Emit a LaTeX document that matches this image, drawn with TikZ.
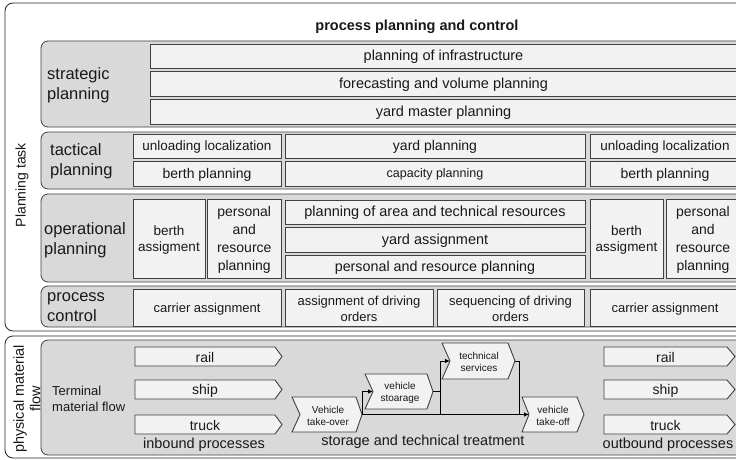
\documentclass[tikz,border=0pt]{standalone}
\usepackage{fontspec}
\setmainfont{Liberation Sans}
\usetikzlibrary{arrows.meta,calc}
\definecolor{bandgray}{RGB}{217,217,217}
\definecolor{boxfill}{RGB}{242,242,242}
\definecolor{linec}{RGB}{64,64,64}
\definecolor{txt}{RGB}{25,25,25}
\newcommand{\myfs}[2]{\fontsize{#1}{#2}\selectfont}
\newcommand{\mybox}[7]{%
  \draw[boxst] (#2,#3) rectangle (#4,#5);
  \node[bt, font=#6] (#1) at ($(#2,#3)!0.5!(#4,#5)$) {#7};
}
\newcommand{\mychev}[9]{%
  \pgfmathsetmacro\chvmid{(#3+#5)/2}%
  \pgfmathsetmacro\chvtx{(#2+#6+#4-#7)/2}%
  \draw[boxst] (#2,#3) -- ({#4-#7},#3) -- (#4,\chvmid) -- ({#4-#7},#5) -- (#2,#5) -- ({#2+#6},\chvmid) -- cycle;
  \node[bt, font=#8] (#1) at (\chvtx,\chvmid) {#9};
  \coordinate (#1-tip) at (#4,\chvmid);
  \coordinate (#1-notch) at ({#2+#6},\chvmid);
}
\begin{document}
\begin{tikzpicture}[x=1pt,y=-1pt,
  frame/.style={draw=black!85, line width=0.8pt, rounded corners=8pt},
  band/.style={draw=linec, fill=bandgray, line width=0.8pt, rounded corners=7pt},
  boxst/.style={draw=linec, fill=boxfill, line width=0.9pt},
  bt/.style={text=txt, align=center, inner sep=0pt, yshift=-1.2pt},
  lbl/.style={text=txt, align=left, anchor=west, inner sep=0pt, font=\myfs{16.5}{20}},
  conn/.style={draw=black, line width=0.8pt, -{Latex[length=5pt,width=4.5pt]}},
  plain/.style={draw=black, line width=0.8pt}]
\useasboundingbox (0,0) rectangle (736,460);
\clip (0,0) rectangle (736,460);
\fill[white] (0,0) rectangle (736,460);

% outer frames
\draw[frame] (5,3) rectangle (760,331);
\draw[frame] (5,336) rectangle (760,458);
\node[rotate=90, text=txt, inner sep=0pt, font=\myfs{14}{16}] (ptask) at (22,185) {Planning task};
\node[rotate=90, text=txt, align=center, inner sep=0pt, font=\myfs{14.5}{16.5}] (pmf) at (27,399) {physical material\\flow};

\node[text=txt, inner sep=0pt, font=\bfseries\myfs{14.5}{17}] (title) at (417,27) {process planning and control};

% bands
\draw[band] (41,41) rectangle (760,127);
\draw[band] (41,132) rectangle (760,189);
\draw[band] (41,194) rectangle (760,282);
\draw[band] (41,286) rectangle (760,327);
\draw[band] (41,340) rectangle (760,455);

\node[lbl] (sp) at (47,85) {strategic\\planning};
\node[lbl] (tp) at (50,161) {tactical\\planning};
\node[lbl] (op) at (44,240) {operational\\planning};
\node[lbl] (pc) at (47,307) {process\\control};

% strategic
\mybox{s1}{150}{44}{737}{68}{\myfs{14.5}{17}}{planning of infrastructure}
\mybox{s2}{150}{71.5}{737}{96}{\myfs{14.5}{17}}{forecasting and volume planning}
\mybox{s3}{150}{99}{737}{124}{\myfs{14.5}{17}}{yard master planning}

% tactical
\mybox{t1}{133}{134}{281}{158}{\myfs{13.5}{16}}{unloading localization}
\mybox{t2}{133}{161}{281}{186}{\myfs{14}{16}}{berth planning}
\mybox{t3}{285}{134}{585}{158}{\myfs{14}{16}}{yard planning}
\mybox{t4}{285}{161}{585}{186}{\myfs{12.5}{15}}{capacity planning}
\mybox{t5}{590}{134}{740}{158}{\myfs{13.5}{16}}{unloading localization}
\mybox{t6}{590}{161}{740}{186}{\myfs{14}{16}}{berth planning}

% operational
\mybox{o1}{133}{199}{205}{278}{\myfs{13.5}{16}}{berth\\assigment}
\mybox{o2}{207.5}{199}{281}{278}{\myfs{14}{18}}{personal\\and\\resource\\planning}
\mybox{o3}{285}{200}{585}{224}{\myfs{14.5}{17}}{planning of area and technical resources}
\mybox{o4}{285}{227.5}{585}{252}{\myfs{14.5}{17}}{yard assignment}
\mybox{o5}{285}{255}{585}{278}{\myfs{14.3}{17}}{personal and resource planning}
\mybox{o6}{590}{199}{663}{278}{\myfs{13.5}{16}}{berth\\assigment}
\mybox{o7}{666}{199}{740}{278}{\myfs{14}{18}}{personal\\and\\resource\\planning}

% process control
\mybox{p1}{133}{289}{281}{326}{\myfs{13}{16}}{carrier assignment}
\mybox{p2}{285}{289}{433}{326}{\myfs{13}{15.5}}{assignment of driving\\orders}
\mybox{p3}{437}{289}{584}{326}{\myfs{13}{15.5}}{sequencing of driving\\orders}
\mybox{p4}{590}{289}{740}{326}{\myfs{13}{16}}{carrier assignment}

% physical material flow
\node[text=txt, anchor=west, align=left, inner sep=0pt, font=\myfs{13}{16}] (tmf) at (52,399) {Terminal\\material flow};

\mychev{ir}{135}{347}{282}{366}{0}{7}{\myfs{14}{16}}{rail}
\mychev{is}{135}{380}{282}{399}{0}{7}{\myfs{14}{16}}{ship}
\mychev{it}{135}{415}{282}{434}{0}{7}{\myfs{14}{16}}{truck}
\node[text=txt, inner sep=0pt, font=\myfs{14.5}{17}] (ib) at (204,445) {inbound processes};

\mychev{or}{604}{347}{735}{366}{0}{8}{\myfs{14}{16}}{rail}
\mychev{os}{604}{380}{735}{399}{0}{8}{\myfs{14}{16}}{ship}
\mychev{ot}{604}{415}{735}{434}{0}{8}{\myfs{14}{16}}{truck}
\node[text=txt, inner sep=0pt, font=\myfs{14.5}{17}] (ob) at (668,445) {outbound processes};

\mychev{to}{292}{397}{362}{432}{8}{6}{\myfs{10}{12}}{Vehicle\\take-over}
\mychev{st}{365}{374}{433}{409}{8}{6}{\myfs{10}{12}}{vehicle\\stoarage}
\mychev{ts}{442}{343}{515}{379}{8}{7}{\myfs{10}{12}}{technical\\services}
\mychev{tf}{522}{397}{584}{432}{7}{7}{\myfs{10}{12}}{vehicle\\take-off}

\node[text=txt, inner sep=0pt, font=\myfs{14.5}{17}] (stt) at (423,442) {storage and technical treatment};

% connectors
\draw[conn] (to-tip) -- (tf-notch);
\draw[conn] (to-tip) |- (st-notch);
\draw[plain] (st-tip) -- ++(7,0) coordinate (j1);
\draw[conn] (j1) |- (ts-notch);
\draw[plain] (j1) -- (j1 |- to-tip);
\draw[plain] (ts-tip) -- ++(4,0) coordinate (j2) -- (j2 |- to-tip);
\end{tikzpicture}
\end{document}
